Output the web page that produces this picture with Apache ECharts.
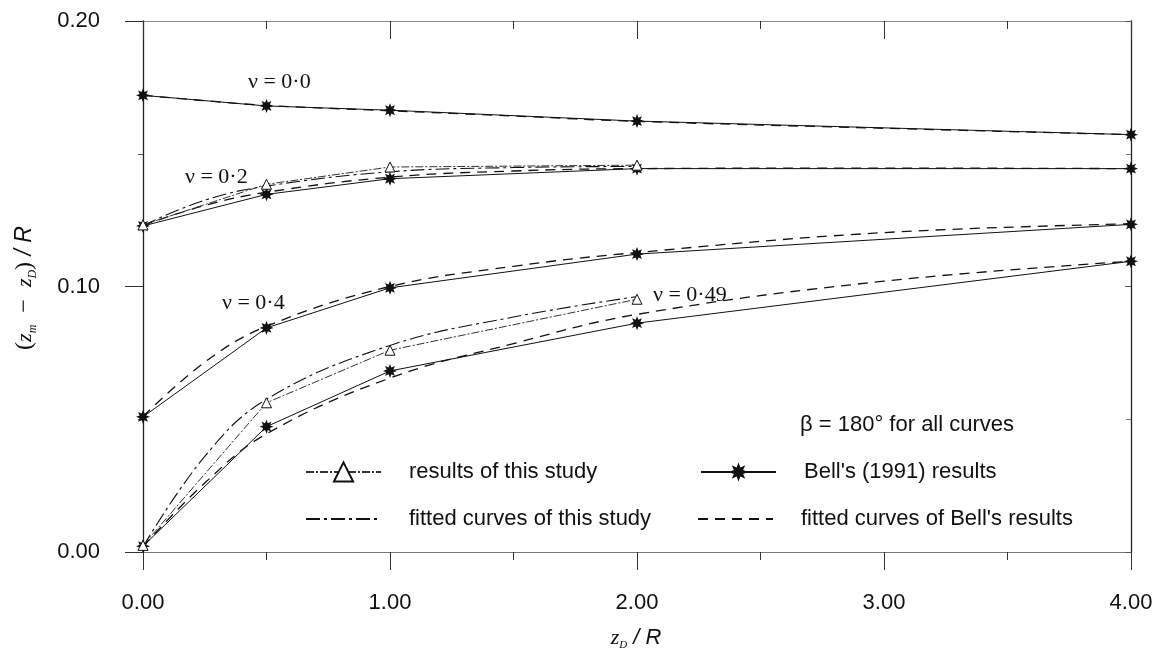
<!DOCTYPE html>
<html>
<head>
<meta charset="utf-8">
<style>
  html, body { margin: 0; padding: 0; background: #fff; }
  #chart { width: 1166px; height: 655px; }
</style>
<script src="https://cdn.jsdelivr.net/npm/echarts@6/dist/echarts.min.js"></script>
</head>
<body>
<div id="chart"></div>
<script>
// Settlement ratio (z_m - z_D)/R against depth ratio z_D/R, four Poisson's ratios.

// Bell's (1991) results, sampled at these depth ratios
const bellX = [0, 0.5, 1, 2, 4];
const bellNu00 = [0.172, 0.168, 0.1664, 0.1623, 0.1572];
const bellNu02 = [0.1228, 0.1347, 0.1406, 0.1444, 0.1444];
const bellNu04 = [0.0509, 0.0844, 0.0995, 0.1122, 0.1234];
const bellNu049 = [0.0022, 0.0472, 0.0682, 0.0862, 0.1095];

// results of this study
const studyX = [0, 0.5, 1, 2];
const studyNu02 = [0.1232, 0.1385, 0.145, 0.1457];
const studyNu049 = [0.0025, 0.0562, 0.076, 0.0952];

// fitted curves of Bell's results
const bellFitX = [0, 0.25, 0.5, 1, 1.5, 2, 3, 4];
const bellFitNu00 = [0.172, 0.170, 0.1682, 0.1662, 0.1642, 0.1622, 0.1596, 0.1572];
const bellFitNu02 = [0.123, 0.1305, 0.1355, 0.1412, 0.1435, 0.1444, 0.1446, 0.1444];
const bellFitNu04 = [0.051, 0.0715, 0.0850, 0.1000, 0.1076, 0.1128, 0.1203, 0.1236];
const bellFitNu049 = [0.002, 0.026, 0.0445, 0.0655, 0.0785, 0.0895, 0.1020, 0.1095];

// fitted curves of this study
const studyFitX = [0, 0.25, 0.5, 1, 1.5, 2];
const studyFitNu02 = [0.123, 0.1325, 0.1378, 0.1432, 0.1448, 0.1452];
const studyFitNu049 = [0.002, 0.036, 0.0575, 0.0778, 0.0885, 0.0962];

// curve labels
const nuLabels = ['ν = 0·0', 'ν = 0·2', 'ν = 0·4', 'ν = 0·49'];
const noteText = 'β = 180° for all curves';

const legendNames = [
  'results of this study',
  "Bell's (1991) results",
  'fitted curves of this study',
  "fitted curves of Bell's results"
];

const sans = '"Liberation Sans", Arial, sans-serif';
const serif = '"Liberation Serif", "Times New Roman", serif';
const ink = '#111';
const clear = 'rgba(0,0,0,0)';

// 8-pointed star marker
function starPath(n, ro, ri) {
  const pts = [];
  for (let i = 0; i < 2 * n; i++) {
    const r = i % 2 === 0 ? ro : ri;
    const a = Math.PI * i / n;
    pts.push((r * Math.cos(a)).toFixed(2) + ',' + (r * Math.sin(a)).toFixed(2));
  }
  return 'path://M' + pts.join(' L') + ' Z';
}
const STAR = starPath(8, 10, 5.2);

const zip = (xs, ys) => xs.map((x, i) => [x, ys[i]]);

function bellSeries(ys) {
  return {
    name: legendNames[1], type: 'line', data: zip(bellX, ys),
    symbol: STAR, symbolSize: 14, z: 5,
    lineStyle: { color: ink, width: 1, type: 'solid' },
    itemStyle: { color: ink, borderWidth: 0 }
  };
}
function studySeries(ys) {
  return {
    name: legendNames[0], type: 'line', data: zip(studyX, ys),
    symbol: 'triangle', symbolSize: 10, z: 6,
    lineStyle: { color: '#333', width: 1, type: [8, 2, 2, 2] },
    itemStyle: { color: '#fff', borderColor: ink, borderWidth: 1 }
  };
}
// fitted curves: no markers, so their legend marker is fully transparent
function studyFitSeries(ys) {
  return {
    name: legendNames[2], type: 'line', data: zip(studyFitX, ys),
    symbol: 'circle', symbolSize: 1, showSymbol: false, smooth: 0.4, z: 3,
    lineStyle: { color: ink, width: 1.1, type: [14, 4, 3, 4] },
    itemStyle: { color: clear, borderColor: clear, borderWidth: 0 }
  };
}
function bellFitSeries(ys) {
  return {
    name: legendNames[3], type: 'line', data: zip(bellFitX, ys),
    symbol: 'circle', symbolSize: 1, showSymbol: false, smooth: 0.4, z: 4,
    lineStyle: { color: ink, width: 1.3, type: [10, 7] },
    itemStyle: { color: clear, borderColor: clear, borderWidth: 0 }
  };
}

function legendAt(name, left, top, hideMark) {
  const item = { name: name };
  if (hideMark) item.itemStyle = { color: clear, borderColor: clear, borderWidth: 0 };
  return {
    data: [item], left: left, top: top, orient: 'horizontal',
    itemWidth: 75, itemHeight: 24, selectedMode: false, padding: 0,
    textStyle: { fontFamily: sans, fontSize: 22, color: ink, padding: [0, 0, 0, 23] }
  };
}

const chart = echarts.init(document.getElementById('chart'), null, { renderer: 'canvas' });

const option = {
  backgroundColor: '#fff',
  animation: false,
  grid: { left: 143, top: 21, width: 988, height: 531, containLabel: false },
  xAxis: [
    {
      type: 'value', position: 'bottom', min: 0, max: 4, interval: 1,
      axisLine: { show: true, onZero: false, lineStyle: { color: '#777', width: 1 } },
      axisTick: { show: true, length: 18, inside: false, lineStyle: { color: '#333' } },
      minorTick: { show: true, splitNumber: 2, length: 8, lineStyle: { color: '#333' } },
      splitLine: { show: false }, minorSplitLine: { show: false },
      axisLabel: { fontFamily: sans, fontSize: 22, color: ink, margin: 40,
        formatter: v => v.toFixed(2) }
    },
    {
      type: 'value', position: 'top', min: 0, max: 4, interval: 1,
      axisLine: { show: true, onZero: false, lineStyle: { color: '#888', width: 1 } },
      axisTick: { show: true, length: 18, inside: true, lineStyle: { color: '#333' } },
      minorTick: { show: true, splitNumber: 2, length: 8, lineStyle: { color: '#333' } },
      splitLine: { show: false }, axisLabel: { show: false }
    }
  ],
  yAxis: [
    {
      type: 'value', position: 'left', min: 0, max: 0.2, interval: 0.1,
      axisLine: { show: true, onZero: false, lineStyle: { color: '#222', width: 1.3 } },
      axisTick: { show: true, length: 18, inside: false, lineStyle: { color: '#333' } },
      minorTick: { show: true, splitNumber: 2, length: 5, lineStyle: { color: '#555' } },
      splitLine: { show: false },
      axisLabel: { fontFamily: sans, fontSize: 22, color: ink, margin: 43,
        formatter: v => v.toFixed(2) }
    },
    {
      type: 'value', position: 'right', min: 0, max: 0.2, interval: 0.1,
      axisLine: { show: true, onZero: false, lineStyle: { color: '#222', width: 1.3 } },
      axisTick: { show: true, length: 6, inside: true, lineStyle: { color: '#555' } },
      minorTick: { show: true, splitNumber: 2, length: 5, lineStyle: { color: '#777' } },
      splitLine: { show: false }, axisLabel: { show: false }
    }
  ],
  legend: [
    legendAt(legendNames[0], 305, 461, false),
    legendAt(legendNames[1], 700, 461, false),
    legendAt(legendNames[2], 305, 508, true),
    legendAt(legendNames[3], 697, 508, true)
  ],
  series: [
    bellFitSeries(bellFitNu00),
    bellFitSeries(bellFitNu02),
    bellFitSeries(bellFitNu04),
    bellFitSeries(bellFitNu049),
    studyFitSeries(studyFitNu02),
    studyFitSeries(studyFitNu049),
    bellSeries(bellNu00),
    bellSeries(bellNu02),
    bellSeries(bellNu04),
    bellSeries(bellNu049),
    studySeries(studyNu02),
    studySeries(studyNu049)
  ],
  graphic: [
    // curve labels
    { type: 'text', x: 248, y: 82, style: { text: nuLabels[0], font: '22px ' + serif, fill: ink, verticalAlign: 'middle' } },
    { type: 'text', x: 185, y: 177, style: { text: nuLabels[1], font: '22px ' + serif, fill: ink, verticalAlign: 'middle' } },
    { type: 'text', x: 222, y: 303, style: { text: nuLabels[2], font: '22px ' + serif, fill: ink, verticalAlign: 'middle' } },
    { type: 'text', x: 653, y: 295, style: { text: nuLabels[3], font: '22px ' + serif, fill: ink, verticalAlign: 'middle' } },
    // loading note
    { type: 'text', x: 800, y: 425, style: { text: noteText, font: '22px ' + sans, fill: ink, verticalAlign: 'middle' } },
    // x-axis title
    {
      type: 'text', x: 636, y: 638,
      style: {
        text: '{i|z}{s|D}{r| / R}', align: 'center', verticalAlign: 'middle',
        rich: {
          i: { fontFamily: serif, fontStyle: 'italic', fontSize: 22, fill: ink, lineHeight: 26 },
          s: { fontFamily: serif, fontStyle: 'italic', fontSize: 11, fill: ink, verticalAlign: 'bottom', lineHeight: 26 },
          r: { fontFamily: sans, fontStyle: 'italic', fontSize: 22, fill: ink, lineHeight: 26 }
        }
      }
    },
    // y-axis title
    {
      type: 'text', x: 25, y: 288, rotation: Math.PI / 2,
      style: {
        text: '{p|(}{i|z}{s|m}{p|  −  }{i|z}{s|D}{p|)}{r| / R}', align: 'center', verticalAlign: 'middle',
        rich: {
          p: { fontFamily: serif, fontSize: 24, fill: ink, lineHeight: 28 },
          i: { fontFamily: serif, fontStyle: 'italic', fontSize: 22, fill: ink, lineHeight: 28 },
          s: { fontFamily: serif, fontStyle: 'italic', fontSize: 12, fill: ink, verticalAlign: 'bottom', lineHeight: 28 },
          r: { fontFamily: sans, fontStyle: 'italic', fontSize: 23, fill: ink, lineHeight: 28 }
        }
      }
    }
  ]
};

chart.setOption(option);
</script>
</body>
</html>
